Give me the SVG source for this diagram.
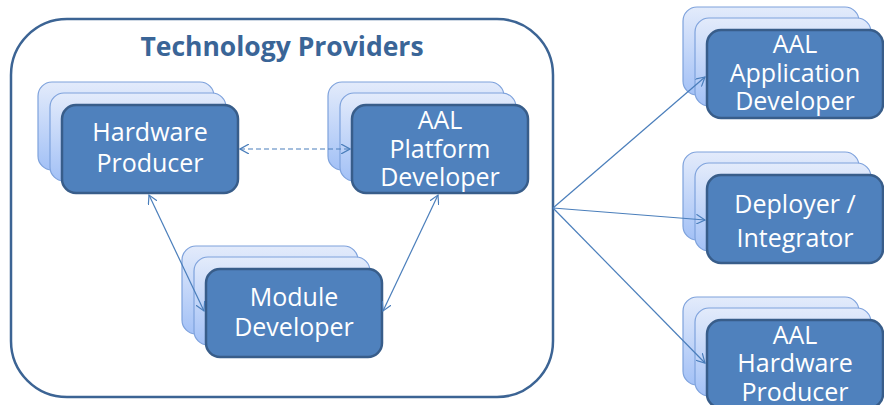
<svg xmlns="http://www.w3.org/2000/svg" width="884" height="405" viewBox="0 0 884 405">
<defs>
<linearGradient id="bg" x1="0" y1="0" x2="0" y2="1">
<stop offset="0" stop-color="#e3ebfb"/>
<stop offset="1" stop-color="#a3c1f6"/>
</linearGradient>
<marker id="arr" viewBox="0 0 10 10" refX="9" refY="5" markerWidth="10" markerHeight="10" markerUnits="userSpaceOnUse" orient="auto-start-reverse">
<path d="M0,0 L9,5 L0,10" fill="none" stroke="#4a7ebb" stroke-width="1.2"/>
</marker>
<g id="stack">
<rect x="-24" y="-23" width="176" height="88" rx="14" class="back"/>
<rect x="-12" y="-12" width="176" height="88" rx="14" class="back"/>
<rect x="0" y="0" width="176" height="88" rx="14" class="front"/>
</g>
</defs>
<style>
.back{fill:url(#bg);stroke:#7ea2dc;stroke-width:1.2}
.front{fill:#4f81bd;stroke:#385d8a;stroke-width:2.5}
.lbl{font-family:"Open Sans","Liberation Sans",sans-serif;font-size:25px;fill:#ffffff;text-anchor:middle}
.ttl{font-family:"Open Sans","Liberation Sans",sans-serif;font-size:26.5px;font-weight:bold;fill:#3a6597;text-anchor:middle}
.con{fill:none;stroke:#4a7ebb;stroke-width:1.2}
</style>
<rect width="884" height="405" fill="#ffffff"/>
<g id="container">
<rect x="11" y="19" width="542" height="378" rx="56" fill="#ffffff" stroke="#3c6494" stroke-width="2.5"/>
<text class="ttl" x="282" y="56">Technology Providers</text>
</g>
<g id="hardware-producer">
<use href="#stack" x="62" y="105"/>
<text class="lbl" x="150" y="141">Hardware</text>
<text class="lbl" x="150" y="172">Producer</text>
</g>
<g id="aal-platform-developer">
<use href="#stack" x="352" y="105"/>
<text class="lbl" x="440" y="129">AAL</text>
<text class="lbl" x="440" y="158">Platform</text>
<text class="lbl" x="440" y="186">Developer</text>
</g>
<g id="module-developer">
<use href="#stack" x="206" y="269"/>
<text class="lbl" x="294" y="306">Module</text>
<text class="lbl" x="294" y="336">Developer</text>
</g>
<g id="aal-application-developer">
<use href="#stack" x="707" y="30"/>
<text class="lbl" x="795" y="53">AAL</text>
<text class="lbl" x="795" y="82">Application</text>
<text class="lbl" x="795" y="110">Developer</text>
</g>
<g id="deployer-integrator">
<use href="#stack" x="707" y="175"/>
<text class="lbl" x="795" y="213">Deployer /</text>
<text class="lbl" x="795" y="247">Integrator</text>
</g>
<g id="aal-hardware-producer">
<use href="#stack" x="707" y="320"/>
<text class="lbl" x="795" y="344">AAL</text>
<text class="lbl" x="795" y="372">Hardware</text>
<text class="lbl" x="795" y="401">Producer</text>
</g>
<g id="connectors">
<line class="con" x1="240" y1="149" x2="350" y2="149" stroke-dasharray="5,3" marker-start="url(#arr)" marker-end="url(#arr)"/>
<line class="con" x1="149" y1="195" x2="204" y2="311" marker-start="url(#arr)" marker-end="url(#arr)"/>
<line class="con" x1="438" y1="195" x2="383" y2="311" marker-start="url(#arr)" marker-end="url(#arr)"/>
<line class="con" x1="553" y1="208" x2="705" y2="77" marker-end="url(#arr)"/>
<line class="con" x1="553" y1="208" x2="705" y2="220" marker-end="url(#arr)"/>
<line class="con" x1="553" y1="208" x2="705" y2="363" marker-end="url(#arr)"/>
</g>
</svg>
